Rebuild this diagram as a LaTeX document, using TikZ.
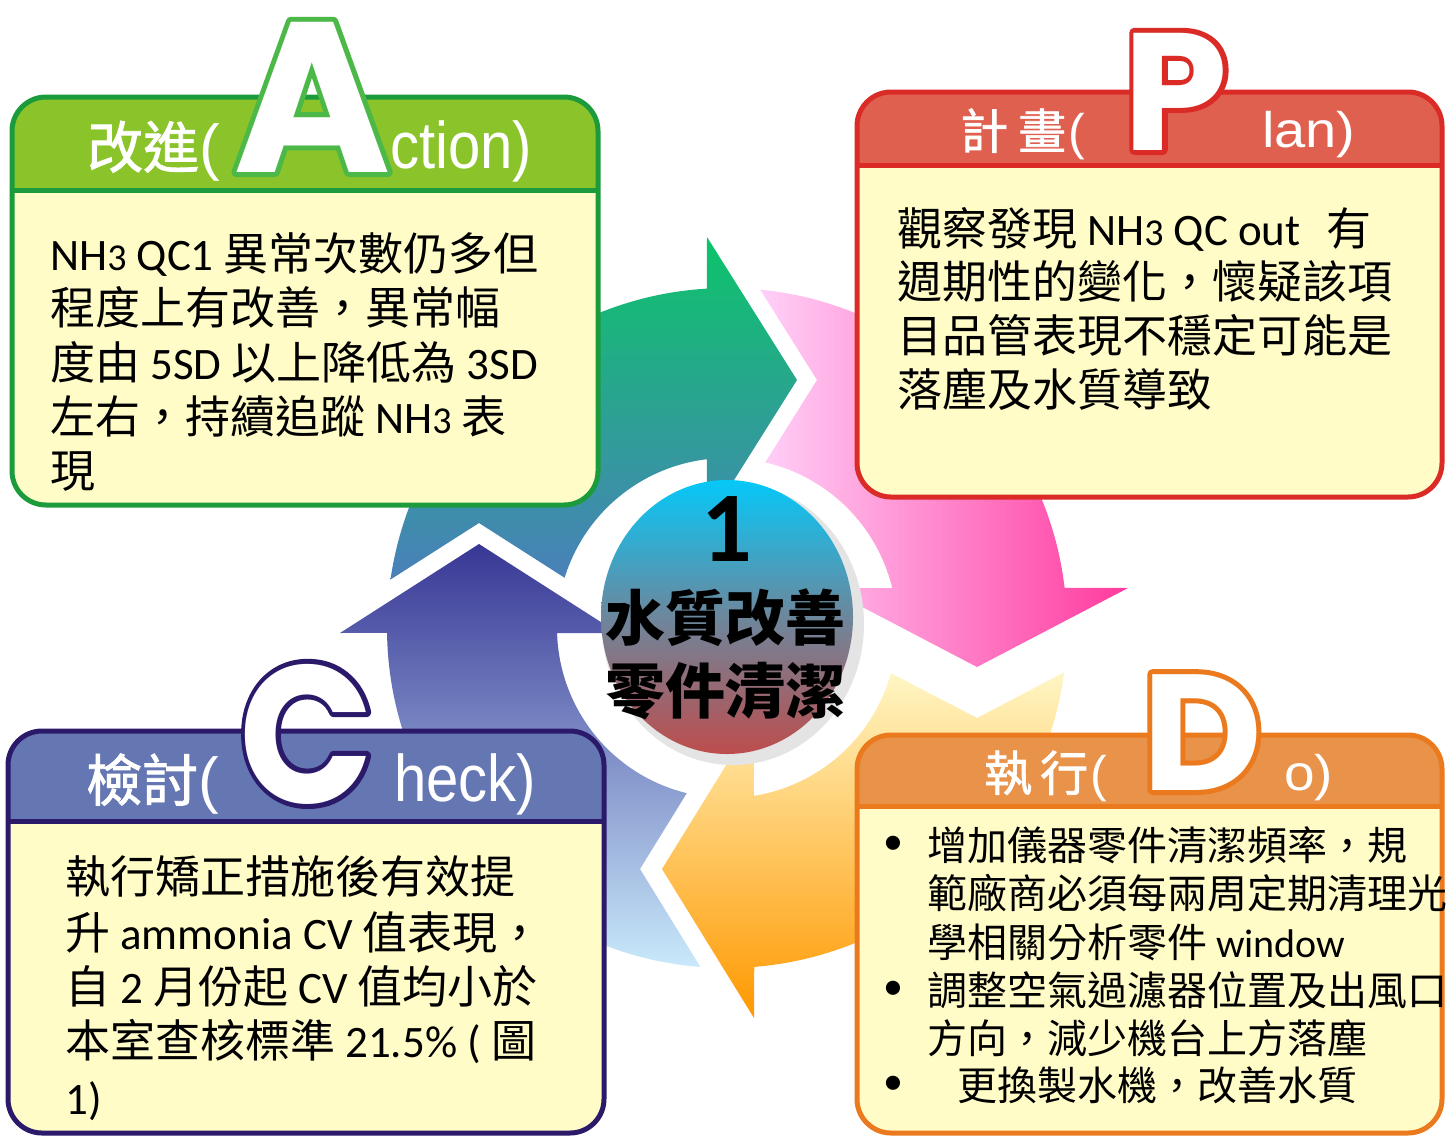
\documentclass[tikz,border=0pt]{standalone}
\usepackage{fontspec}
\usepackage{graphicx}
\setmainfont{Noto Sans CJK TC}
\newfontfamily\lat{Carlito}
\newfontfamily\hdr{Liberation Sans}
\newfontfamily\bigf{Poppins}
\newfontfamily\cjkhd{Noto Sans CJK TC}[FakeBold=1.5]
\newcommand\nhsub{{\fontsize{38}{38}\selectfont 3}}
\definecolor{gA}{HTML}{0CC46A}
\definecolor{gB}{HTML}{4A80BA}
\definecolor{pA}{HTML}{FFD0F8}
\definecolor{pB}{HTML}{FF3A9E}
\definecolor{oA}{HTML}{FFF6C4}
\definecolor{oB}{HTML}{FF9800}
\definecolor{bA}{HTML}{383795}
\definecolor{bB}{HTML}{C9E9FB}
\definecolor{bodyc}{HTML}{FFFCC8}
\definecolor{actH}{HTML}{8BC42A}
\definecolor{actB}{HTML}{1C9B3C}
\definecolor{plnH}{HTML}{E06050}
\definecolor{plnB}{HTML}{DA2B26}
\definecolor{chkH}{HTML}{6577B2}
\definecolor{chkB}{HTML}{2B1A6A}
\definecolor{doH}{HTML}{E8924A}
\definecolor{doB}{HTML}{EB7A1E}
\definecolor{cTop}{HTML}{05C8F8}
\definecolor{cMid}{HTML}{6D879C}
\definecolor{cBot}{HTML}{BD4D4D}
\definecolor{shad}{HTML}{E4E4E4}
\tikzset{
  txt/.style={anchor=base west, inner sep=0pt, text=black, font=\fontsize{45}{54}\selectfont},
  txtd/.style={anchor=base west, inner sep=0pt, text=black, font=\fontsize{40}{48}\selectfont},
  bul/.style={anchor=center, inner sep=0pt, text=black, font=\lat\fontsize{40}{48}\selectfont},
  hdbig/.style={anchor=base west, inner sep=0pt, text=white, font=\cjkhd\fontsize{56}{60}\selectfont},
  hdsml/.style={anchor=base west, inner sep=0pt, text=white, font=\cjkhd\fontsize{48}{52}\selectfont},
  hlbig/.style={anchor=base west, inner sep=0pt, text=white, font=\hdr\fontsize{66}{70}\selectfont},
  hlsml/.style={anchor=base west, inner sep=0pt, text=white, font=\hdr\fontsize{50}{54}\selectfont},
  letter/.style={anchor=base, inner sep=0pt, text=white, font=\bigf\bfseries\fontsize{#1}{#1}\selectfont},
}
\newcommand\hparen[1]{{\hdr\fontsize{#1}{#1}\selectfont(}}
\newcommand\outlined[2]{\smash{\rlap{\special{pdf:literal direct #1 RG 10 w 1 j 1 Tr}#2\special{pdf:literal direct 0 Tr}}#2}}
\newcommand\pbox[8]{%
  \begin{scope}
    \clip[rounded corners=34pt] (#2,#3) rectangle (#4,#5);
    \fill[bodyc] (#2,#3) rectangle (#4,#5);
    \fill[#7] (#2,#3) rectangle (#4,#6);
  \end{scope}
  \draw[#8, line width=5pt] (#2,#6) -- (#4,#6);
  \draw[#8, line width=5pt, rounded corners=34pt] (#2,#3) rectangle (#4,#5);
  \coordinate (#1) at (#2,#3);
}
\begin{document}
\begin{tikzpicture}[x=1pt,y=-1pt]
\useasboundingbox (0,0) rectangle (1448,1136);
\fill[white] (0,0) rectangle (1448,1136);
\coordinate (O) at (727,628);
% green arrow
\shade[top color=gA, bottom color=gB]
  ([shift={(O)}]188.2:340) arc[start angle=188.2, end angle=266.6, radius=340]
  -- (707,237) -- (797,380) -- (707,523)
  -- ([shift={(O)}]263.2:170) arc[start angle=263.2, end angle=197.2, radius=170]
  -- (479,523) -- cycle;
% pink arrow
\shade[left color=pA, right color=pB]
  ([shift={(O)}]275.6:340) arc[start angle=275.6, end angle=353.2, radius=340]
  -- (1128,588) -- (977,667) -- (826,588)
  -- ([shift={(O)}]346.4:170) arc[start angle=346.4, end angle=283.0, radius=170]
  -- (817,380) -- cycle;
% orange arrow
\shade[top color=oA, bottom color=oB]
  ([shift={(O)}]7.5:340) arc[start angle=7.5, end angle=85.4, radius=340]
  -- (754,1018) -- (662,869) -- (754,720)
  -- ([shift={(O)}]80.9:170) arc[start angle=80.9, end angle=15.4, radius=170]
  -- (977,718) -- cycle;
% blue arrow
\shade[top color=bA, bottom color=bB]
  ([shift={(O)}]94.5:340) arc[start angle=94.5, end angle=179.2, radius=340]
  -- (340,633) -- (479,544) -- (618,633)
  -- ([shift={(O)}]178.3:170) arc[start angle=178.3, end angle=103.7, radius=170]
  -- (640,869) -- cycle;
% centre
\fill[shad] (733,624) ellipse [x radius=131, y radius=141];
\shade[top color=cTop, bottom color=cBot, middle color=cMid] (727,617) ellipse [x radius=126, y radius=137];
\node[anchor=base, inner sep=0pt, font=\lat\bfseries\fontsize{100}{100}\selectfont] (num) at (727,561) {1};
\node[anchor=base, inner sep=0pt, font=\bfseries\fontsize{60}{60}\selectfont] (ct1) at (725,640) {水質改善};
\node[anchor=base, inner sep=0pt, font=\bfseries\fontsize{60}{60}\selectfont] (ct2) at (725,713) {零件清潔};
% boxes
\pbox{actbox}{12}{97}{598}{505}{190}{actH}{actB}
\pbox{plnbox}{857}{92}{1442}{497}{165}{plnH}{plnB}
\pbox{chkbox}{8}{731}{604}{1133}{821}{chkH}{chkB}
\pbox{dobox}{857}{735}{1442}{1133}{806}{doH}{doB}
% headers
\node[hdbig] (ah1) at (87,168) {改進\hparen{62}};
\node[hlbig] (ah2) at (390,168) {\scalebox{0.88}[1]{ction)}};
\node[hdsml] (ph1) at (960,149) {計\hspace{10pt}畫\hspace{2pt}\hparen{50}};
\node[hlsml] (ph2) at (1262,147) {\scalebox{1.12}[1]{lan)}};
\node[hdbig] (kh1) at (86,801) {檢討\hparen{62}};
\node[hlbig] (kh2) at (394,801) {\scalebox{0.88}[1]{heck)}};
\node[hdsml] (dh1) at (984,791) {執\hspace{8pt}行\hspace{2pt}\hparen{50}};
\node[hlsml] (dh2) at (1284,790) {\scalebox{1.1}[1]{o)}};
% big letters
\node[letter=214] (bigA) at (312,172) {\outlined{0.298 0.722 0.282}{A}};
\node[letter=167] (bigP) at (1176,150) {\outlined{0.855 0.169 0.149}{P}};
\node[letter=196] (bigC) at (307,803) {\scalebox{0.9}[1]{\outlined{0.169 0.102 0.416}{C}}};
\node[letter=165] (bigD) at (1202,790) {\outlined{0.922 0.478 0.118}{D}};
% action text
\node[txt] (a1) at (50,270) {{\lat NH\nhsub\ QC1} 異常次數仍多但};
\node[txt] (a2) at (50,324) {程度上有改善，異常幅};
\node[txt] (a3) at (50,379) {度由 {\lat 5SD} 以上降低為 {\lat 3SD}};
\node[txt] (a4) at (50,433) {左右，持續追蹤 {\lat NH\nhsub} 表};
\node[txt] (a5) at (50,487) {現};
% plan text
\node[txt] (p1) at (897,245) {觀察發現 {\lat NH\nhsub\ QC out}\hspace{26pt}有};
\node[txt] (p2) at (897,298) {週期性的變化，懷疑該項};
\node[txt] (p3) at (897,352) {目品管表現不穩定可能是};
\node[txt] (p4) at (897,406) {落塵及水質導致};
% check text
\node[txt] (k1) at (65,893) {執行矯正措施後有效提};
\node[txt] (k2) at (65,949) {升 {\lat ammonia CV} 值表現，};
\node[txt] (k3) at (65,1003) {自 {\lat 2} 月份起 {\lat CV} 值均小於};
\node[txt] (k4) at (65,1057) {本室查核標準 {\lat 21.5\% (} 圖};
\node[txt] (k5) at (65,1114) {{\lat 1)}};
% do text
\node[bul] (db1) at (893,845) {•};
\node[bul] (db2) at (893,990) {•};
\node[bul] (db3) at (893,1085) {•};
\node[txtd] (d1) at (927,860) {增加儀器零件清潔頻率，規};
\node[txtd] (d2) at (927,908) {範廠商必須每兩周定期清理光};
\node[txtd] (d3) at (927,957) {學相關分析零件 {\lat window}};
\node[txtd] (d4) at (927,1005) {調整空氣過濾器位置及出風口};
\node[txtd] (d5) at (927,1053) {方向，減少機台上方落塵};
\node[txtd] (d6) at (957,1100) {更換製水機，改善水質};
\end{tikzpicture}
\end{document}
